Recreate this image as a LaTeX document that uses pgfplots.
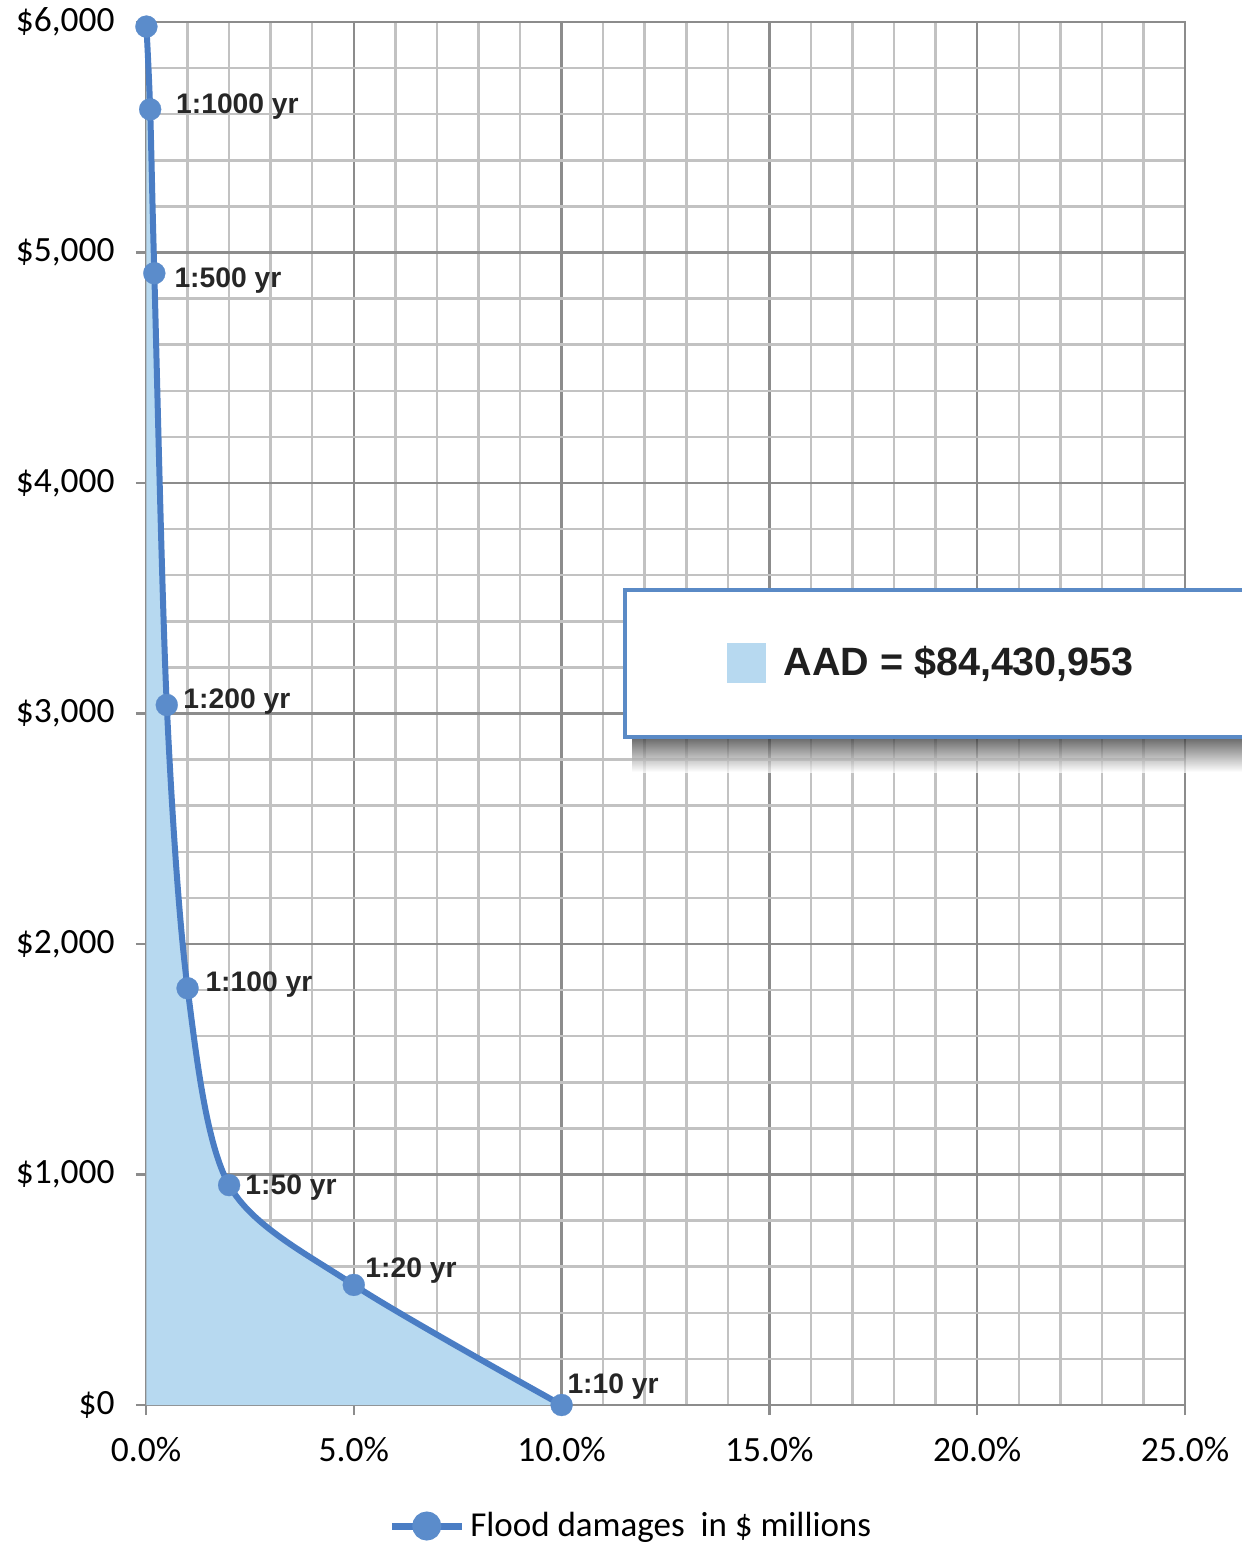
\documentclass[border=0pt]{standalone}
\usepackage{fontspec}
\setmainfont{Carlito}
\newfontfamily\labfont{Liberation Sans}
\usepackage{pgfplots}
\pgfplotsset{compat=1.18}

\definecolor{lineblue}{HTML}{4A7DC4}
\definecolor{markblue}{HTML}{5B8CCB}
\definecolor{fillblue}{HTML}{B7D9F0}
\definecolor{majgrid}{HTML}{8C8C8C}
\definecolor{mingrid}{HTML}{C2C2C2}
\definecolor{boxblue}{HTML}{5A8AC6}

\begin{document}
\begin{tikzpicture}
\begin{axis}[
  scale only axis,
  width=415.6pt, height=553.2pt,
  xmin=0, xmax=25, ymin=0, ymax=6000,
  xtick={0,5,...,25}, ytick={0,1000,...,6000},
  minor x tick num=4, minor y tick num=4,
  grid=both,
  major grid style={draw=majgrid, line width=1pt},
  minor grid style={draw=mingrid, line width=1pt},
  axis line style={draw=majgrid, line width=1pt},
  tick align=outside, major tick length=4pt, minor tick length=0pt,
  tick style={draw=majgrid, line width=1pt},
  xtick pos=left, ytick pos=left,
  tick label style={font=\fontsize{14.2}{16}\selectfont},
  /pgf/number format/assume math mode=true,
  xticklabel={\pgfmathprintnumber[fixed,fixed zerofill,precision=1]{\tick}\%},
  yticklabel={\$\pgfmathprintnumber[fixed,precision=0,1000 sep={,}]{\tick}},
  xticklabel style={yshift=-5.5pt},
  yticklabel style={xshift=-5pt},
  clip=false,
  legend style={at={(0.468,-0.0875)}, anchor=center, draw=none, fill=none,
    font=\fontsize{14}{16}\selectfont},
  legend image code/.code={%
    \draw[lineblue, line width=2.8pt] (0pt,0pt) -- (28pt,0pt);
    \fill[markblue] (14pt,0pt) circle (4.6pt);},
]
% area under the curve
\addplot[fill=fillblue, draw=none, smooth, forget plot] coordinates {
  (0.01,5980) (0.1,5621) (0.2,4910) (0.5,3037) (1,1808) (2,954) (5,521) (10,0)
} \closedcycle;

% damage curve
\addplot[lineblue, line width=2.4pt, smooth,
  mark=*, mark size=4.4pt,
  mark options={solid, fill=markblue, draw=markblue, line width=0.1pt}]
  coordinates {
  (0.01,5980) (0.1,5621) (0.2,4910) (0.5,3037) (1,1808) (2,954) (5,521) (10,0)
};
\addlegendentry{Flood damages\ \ in \$ millions}

% return period labels
\begin{scope}[every node/.style={anchor=base west, inner sep=0pt,
    font=\labfont\bfseries\fontsize{11.3}{13}\selectfont, text=black!85}]
\node at (axis cs:0.715,5601) {1:1000 yr};
\node at (axis cs:0.674,4850) {1:500 yr};
\node at (axis cs:0.890,3020) {1:200 yr};
\node at (axis cs:1.420,1792) {1:100 yr};
\node at (axis cs:2.382,915) {1:50 yr};
\node at (axis cs:5.269,555) {1:20 yr};
\node at (axis cs:10.13,48) {1:10 yr};
\end{scope}

% AAD box
\shade[top color=black!80, bottom color=black!0, opacity=0.75]
  (axis cs:11.7,2746) rectangle (axis cs:28,2898);
\draw[boxblue, line width=1.6pt, fill=white]
  (axis cs:11.53,2898) rectangle (axis cs:28,3536);
\fill[fillblue] (axis cs:13.98,3132) rectangle (axis cs:14.92,3306);
\node[anchor=base west, inner sep=0pt, text=black!88,
  font=\labfont\bfseries\fontsize{15.8}{18}\selectfont]
  at (axis cs:15.33,3163) {AAD = \$84,430,953};

\coordinate (ll) at (rel axis cs:0,0);
\coordinate (ur) at (rel axis cs:1,1);
\end{axis}
\pgfresetboundingbox
\path ([xshift=-58.4pt,yshift=-56pt]ll) rectangle ([xshift=22.8pt,yshift=8.8pt]ur);
\end{tikzpicture}
\end{document}
